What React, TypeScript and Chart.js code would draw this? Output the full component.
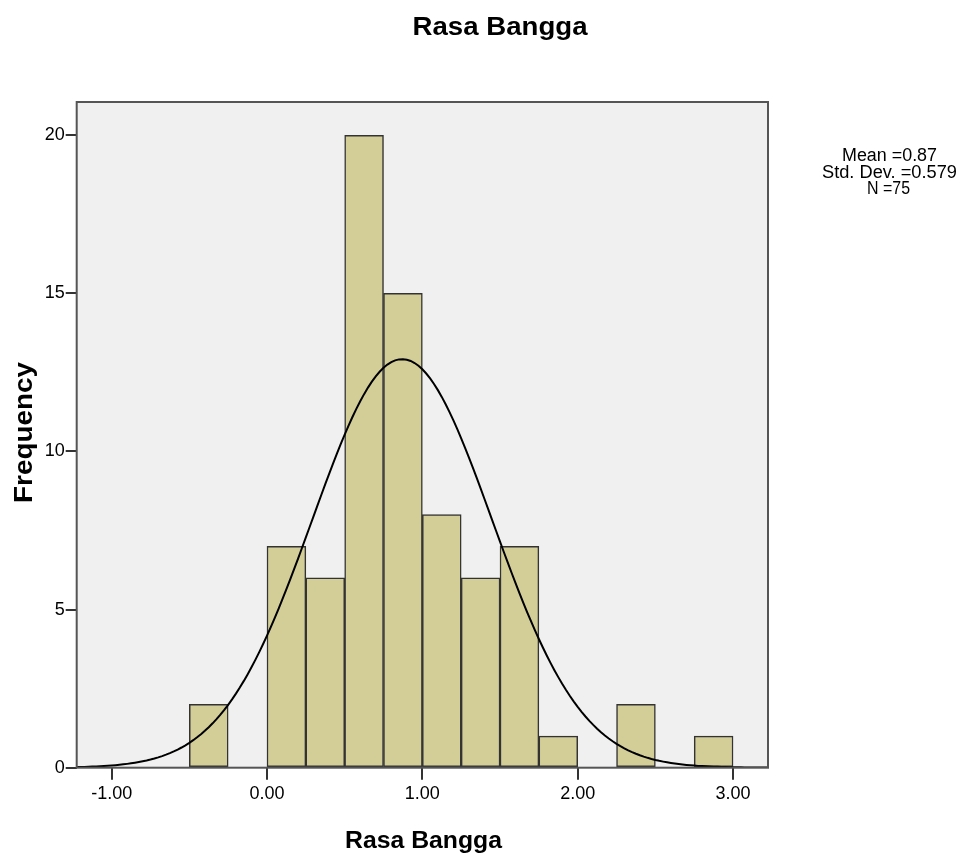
import React, { useEffect, useRef } from 'react';
import { Chart, registerables } from 'chart.js';

Chart.register(...registerables);

// ---- data ----
const binStarts = [-0.5, 0, 0.25, 0.5, 0.75, 1.0, 1.25, 1.5, 1.75, 2.25, 2.75];
const frequencies = [2, 7, 6, 20, 15, 8, 6, 7, 1, 2, 1];
const binWidth = 0.25;
const xTicks = [-1, 0, 1, 2, 3];
const yTicks = [0, 5, 10, 15, 20];
const statMean = 0.87;
const statStdDev = 0.579;
const statN = 75;
const statLines = ['Mean =0.87', 'Std. Dev. =0.579', 'N =75'];
const chartTitle = 'Rasa Bangga';
const xTitle = 'Rasa Bangga';
const yTitle = 'Frequency';

const X_MIN = -1.225;
const X_MAX = 3.225;
const Y_MAX = 21.05;

// fitted normal curve (as drawn by SPSS from the stated mean, sd and N)
const curveXs: number[] = [];
for (let i = 0; i <= 178; i++) curveXs.push(X_MIN + (i * (X_MAX - X_MIN)) / 178);
const curvePoints = curveXs.map((x) => ({
  x,
  y:
    ((statN * binWidth) / (statStdDev * Math.sqrt(2 * Math.PI))) *
    Math.exp(-((x - statMean) ** 2) / (2 * statStdDev * statStdDev)),
}));

const FONT = "'Liberation Sans', Arial, sans-serif";

function drawFitText(
  ctx: CanvasRenderingContext2D,
  text: string,
  cx: number,
  cy: number,
  font: string,
  width: number,
  angle = 0
) {
  ctx.save();
  ctx.font = font;
  ctx.fillStyle = '#000';
  ctx.textAlign = 'center';
  ctx.textBaseline = 'alphabetic';
  const m = ctx.measureText(text).width;
  ctx.translate(cx, cy);
  if (angle) ctx.rotate(angle);
  ctx.scale(width / m, 1);
  ctx.fillText(text, 0, 0);
  ctx.restore();
}

const decorPlugin = {
  id: 'decor',
  beforeDatasetsDraw(chart: any) {
    const { ctx, chartArea: a } = chart;
    ctx.save();
    ctx.fillStyle = '#f0f0f0';
    ctx.fillRect(a.left, a.top, a.right - a.left, a.bottom - a.top);
    ctx.restore();
  },
  afterDraw(chart: any) {
    const { ctx, chartArea: a } = chart;
    ctx.save();
    ctx.strokeStyle = '#555';
    ctx.lineWidth = 2;
    ctx.strokeRect(a.left, a.top, a.right - a.left, a.bottom - a.top);
    ctx.restore();

    drawFitText(ctx, chartTitle, 500, 35, `bold 25px ${FONT}`, 175);
    drawFitText(ctx, xTitle, 423.5, 848, `bold 23px ${FONT}`, 157);
    drawFitText(ctx, yTitle, 32, 432.5, `bold 26px ${FONT}`, 141, -Math.PI / 2);

    const widths = [95, 135, 43];
    const centers = [889.5, 889.5, 888.5];
    const baselines = [161, 177.5, 194];
    statLines.forEach((t, i) => {
      drawFitText(ctx, t, centers[i], baselines[i], `18px ${FONT}`, widths[i]);
    });
  },
};

export default function App() {
  const ref = useRef<HTMLCanvasElement>(null);
  useEffect(() => {
    if (!ref.current) return;
    const chart = new Chart(ref.current, {
      type: 'bar',
      data: {
        datasets: [
          {
            type: 'line',
            data: curvePoints,
            borderColor: '#000',
            borderWidth: 2,
            pointRadius: 0,
            tension: 0,
            fill: false,
            order: 0,
          } as any,
          {
            type: 'bar',
            data: binStarts.map((s, i) => ({ x: s + binWidth / 2, y: frequencies[i] })),
            backgroundColor: '#d3ce97',
            borderColor: '#333',
            borderWidth: 1.5,
            borderSkipped: false,
            barPercentage: 1,
            categoryPercentage: 1,
            order: 1,
          } as any,
        ],
      },
      options: {
        responsive: false,
        animation: false,
        maintainAspectRatio: false,
        layout: { padding: { left: 0, top: 102, right: 963 - 768, bottom: 0 } },
        plugins: { legend: { display: false }, tooltip: { enabled: false }, title: { display: false } },
        scales: {
          x: {
            type: 'linear',
            min: X_MIN,
            max: X_MAX,
            offset: false,
            afterBuildTicks: (s: any) => {
              s.ticks = xTicks.map((v) => ({ value: v }));
            },
            afterFit: (s: any) => {
              s.height = 858 - 767.7;
            },
            ticks: {
              autoSkip: false,
              maxRotation: 0,
              padding: 4,
              color: '#000',
              font: { family: FONT, size: 18 },
              callback: (v: any) => Number(v).toFixed(2),
            },
            grid: {
              display: true,
              offset: false,
              drawOnChartArea: false,
              drawTicks: true,
              tickLength: 12,
              color: '#333',
              lineWidth: 2,
            },
            border: { display: false },
          },
          y: {
            type: 'linear',
            min: 0,
            max: Y_MAX,
            afterBuildTicks: (s: any) => {
              s.ticks = yTicks.map((v) => ({ value: v }));
            },
            afterFit: (s: any) => {
              s.width = 76.7;
            },
            ticks: {
              autoSkip: false,
              padding: 1,
              color: '#000',
              font: { family: FONT, size: 18 },
              callback: (v: any) => String(v),
            },
            grid: {
              display: true,
              drawOnChartArea: false,
              drawTicks: true,
              tickLength: 11,
              color: '#333',
              lineWidth: 2,
            },
            border: { display: false },
          },
        },
      },
      plugins: [decorPlugin],
    });
    return () => chart.destroy();
  }, []);
  return (
    <div style={{ position: 'absolute', left: 0, top: 0, width: 963, height: 858, background: '#fff' }}>
      <canvas ref={ref} width={963} height={858} style={{ display: 'block', width: 963, height: 858 }} />
    </div>
  );
}
